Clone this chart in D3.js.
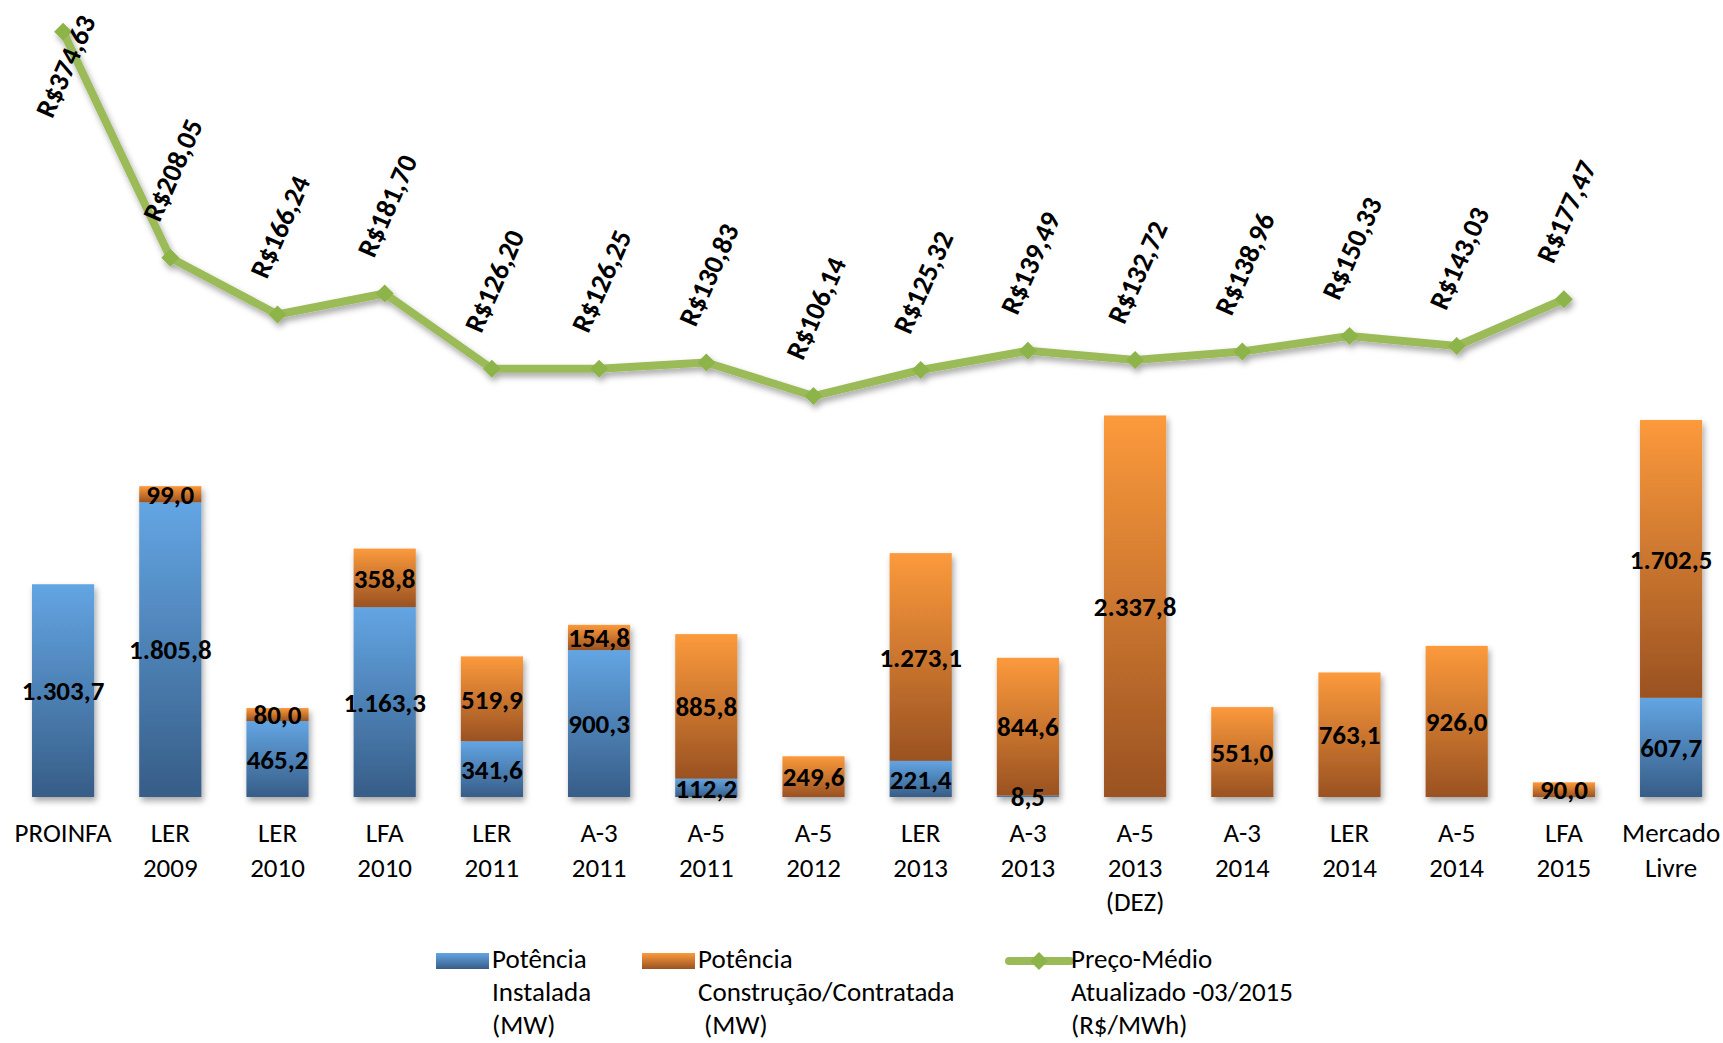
<!DOCTYPE html>
<html lang="pt">
<head>
	<meta charset="utf-8">
<style>

  body {
    margin: 0;
    background: #fff;
  }

  text {
    font-family: Carlito, Calibri, Lato, sans-serif;
    fill: #000;
  }

</style>
	<title>Leilões</title>
	<script type="text/javascript" src="https://cdn.jsdelivr.net/npm/d3@7/dist/d3.min.js"></script>
</head>
<body>
	<div id="chart"></div>
	<script type="text/javascript">

		// data
		var categories = ["PROINFA", "LER 2009", "LER 2010", "LFA 2010", "LER 2011", "A-3 2011", "A-5 2011", "A-5 2012",
			"LER 2013", "A-3 2013", "A-5 2013 (DEZ)", "A-3 2014", "LER 2014", "A-5 2014", "LFA 2015", "Mercado Livre"];
		var categoryLines = [["PROINFA"], ["LER", "2009"], ["LER", "2010"], ["LFA", "2010"], ["LER", "2011"], ["A-3", "2011"],
			["A-5", "2011"], ["A-5", "2012"], ["LER", "2013"], ["A-3", "2013"], ["A-5", "2013", "(DEZ)"], ["A-3", "2014"],
			["LER", "2014"], ["A-5", "2014"], ["LFA", "2015"], ["Mercado", "Livre"]];
		var instalada = [1303.7, 1805.8, 465.2, 1163.3, 341.6, 900.3, 112.2, 0, 221.4, 8.5, 0, 0, 0, 0, 0, 607.7];
		var construcao = [0, 99.0, 80.0, 358.8, 519.9, 154.8, 885.8, 249.6, 1273.1, 844.6, 2337.8, 551.0, 763.1, 926.0, 90.0, 1702.5];
		var preco = [374.63, 208.05, 166.24, 181.70, 126.20, 126.25, 130.83, 106.14, 125.32, 139.49, 132.72, 138.96, 150.33, 143.03, 177.47];
		var legendItems = [
			["Potência", "Instalada", "(MW)"],
			["Potência", "Construção/Contratada", " (MW)"],
			["Preço-Médio", "Atualizado -03/2015", "(R$/MWh)"]
		];

		var width = 1723,
			height = 1043;

		var ptBR = d3.formatLocale({ decimal: ",", thousands: ".", grouping: [3], currency: ["R$", ""] });
		var fmtMW = ptBR.format(",.1f"),
			fmtPreco = ptBR.format("$,.2f");

		var svg = d3.select("#chart")
					.append("svg")
					.attr("width", width)
					.attr("height", height);

		var defs = svg.append("defs");

		function gradient(id, top, bottom) {
			var g = defs.append("linearGradient")
				.attr("id", id)
				.attr("x1", 0).attr("y1", 0)
				.attr("x2", 0).attr("y2", 1);
			g.append("stop").attr("offset", "0%").attr("stop-color", top);
			g.append("stop").attr("offset", "100%").attr("stop-color", bottom);
		}
		gradient("gBlue", "#63a5e3", "#375d87");
		gradient("gOrange", "#fc9a3c", "#9a5222");

		var shadow = defs.append("filter")
			.attr("id", "shadow")
			.attr("x", "-20%").attr("y", "-20%")
			.attr("width", "140%").attr("height", "140%");
		shadow.append("feDropShadow")
			.attr("dx", 2).attr("dy", 4)
			.attr("stdDeviation", 3)
			.attr("flood-color", "#000")
			.attr("flood-opacity", 0.35);

		var x = d3.scaleBand()
			.domain(categories)
			.range([9.5, 1724.7])
			.paddingInner(0.42)
			.paddingOuter(0.21);

		var y = d3.scaleLinear()
			.domain([0, 2500])
			.range([797, 389]);

		var y2 = d3.scaleLinear()
			.domain([0, 400])
			.range([540, -2.6]);

		var rows = categories.map(function(c, i) {
			return { cat: c, lines: categoryLines[i], inst: instalada[i], cons: construcao[i] };
		});

		// axis
		svg.append("line")
			.attr("x1", 10).attr("x2", width)
			.attr("y1", y(0)).attr("y2", y(0))
			.attr("stroke", "#9a9a9a")
			.attr("stroke-width", 2)
			.attr("filter", "url(#shadow)");

		// stacked bars
		var bars = svg.append("g").attr("filter", "url(#shadow)");

		bars.selectAll(".inst")
			.data(rows.filter(function(d){ return d.inst > 0; }))
			.enter().append("rect")
			.attr("class", "inst")
			.attr("x", function(d){ return x(d.cat); })
			.attr("width", x.bandwidth())
			.attr("y", function(d){ return y(d.inst); })
			.attr("height", function(d){ return y(0) - y(d.inst); })
			.attr("fill", "url(#gBlue)");

		bars.selectAll(".cons")
			.data(rows.filter(function(d){ return d.cons > 0; }))
			.enter().append("rect")
			.attr("class", "cons")
			.attr("x", function(d){ return x(d.cat); })
			.attr("width", x.bandwidth())
			.attr("y", function(d){ return y(d.inst + d.cons); })
			.attr("height", function(d){ return y(d.inst) - y(d.inst + d.cons); })
			.attr("fill", "url(#gOrange)");

		// bar labels
		var labels = svg.append("g")
			.attr("text-anchor", "middle")
			.style("font-size", "27px")
			.style("font-weight", "bold");

		labels.selectAll(".linst")
			.data(rows.filter(function(d){ return d.inst > 0; }))
			.enter().append("text")
			.attr("x", function(d){ return x(d.cat) + x.bandwidth() / 2; })
			.attr("y", function(d){ return (y(0) + y(d.inst)) / 2; })
			.attr("dy", "0.36em")
			.text(function(d){ return fmtMW(d.inst); });

		labels.selectAll(".lcons")
			.data(rows.filter(function(d){ return d.cons > 0; }))
			.enter().append("text")
			.attr("x", function(d){ return x(d.cat) + x.bandwidth() / 2; })
			.attr("y", function(d){ return (y(d.inst) + y(d.inst + d.cons)) / 2; })
			.attr("dy", "0.36em")
			.text(function(d){ return fmtMW(d.cons); });

		// category labels
		var ticks = svg.append("g")
			.attr("text-anchor", "middle")
			.style("font-size", "27px");

		ticks.selectAll("text")
			.data(rows)
			.enter().append("text")
			.attr("x", function(d){ return x(d.cat) + x.bandwidth() / 2; })
			.attr("y", 842)
			.each(function(d) {
				d3.select(this).selectAll("tspan")
					.data(d.lines)
					.enter().append("tspan")
					.attr("x", x(d.cat) + x.bandwidth() / 2)
					.attr("dy", function(l, i){ return i === 0 ? 0 : 34.5; })
					.text(function(l){ return l; });
			});

		// price line
		var pts = preco.map(function(p, i) {
			return { cat: categories[i], p: p, cx: x(categories[i]) + x.bandwidth() / 2, cy: y2(p) };
		});

		var line = d3.line()
			.x(function(d){ return d.cx; })
			.y(function(d){ return d.cy; });

		var lineG = svg.append("g").attr("filter", "url(#shadow)");

		lineG.append("path")
			.datum(pts)
			.attr("d", line)
			.attr("fill", "none")
			.attr("stroke", "#9bbb59")
			.attr("stroke-width", 8)
			.attr("stroke-linejoin", "round");

		lineG.selectAll("path.marker")
			.data(pts)
			.enter().append("path")
			.attr("class", "marker")
			.attr("transform", function(d){ return "translate(" + d.cx + "," + d.cy + ")"; })
			.attr("d", "M0,-9L9,0L0,9L-9,0Z")
			.attr("fill", "#8db44a");

		svg.append("g")
			.style("font-size", "28px")
			.style("font-weight", "bold")
			.attr("text-anchor", "middle")
			.selectAll("text")
			.data(pts)
			.enter().append("text")
			.attr("transform", function(d) {
				var cy = Math.max(d.cy - 88, 66);
				return "translate(" + (d.cx + 2) + "," + cy + ") rotate(-66)";
			})
			.attr("dy", "0.36em")
			.text(function(d){ return fmtPreco(d.p); });

		// legend
		var legendX = [436, 642, 1009];
		var legend = svg.append("g").style("font-size", "27px");

		legend.append("rect")
			.attr("x", legendX[0]).attr("y", 953)
			.attr("width", 53).attr("height", 16)
			.attr("fill", "url(#gBlue)");
		legend.append("rect")
			.attr("x", legendX[1]).attr("y", 953)
			.attr("width", 53).attr("height", 16)
			.attr("fill", "url(#gOrange)");
		legend.append("line")
			.attr("x1", legendX[2]).attr("x2", legendX[2] + 61)
			.attr("y1", 961).attr("y2", 961)
			.attr("stroke", "#9bbb59")
			.attr("stroke-width", 8)
			.attr("stroke-linecap", "round");
		legend.append("path")
			.attr("transform", "translate(" + (legendX[2] + 30) + ",961)")
			.attr("d", "M0,-9L9,0L0,9L-9,0Z")
			.attr("fill", "#8db44a");

		legend.selectAll("text")
			.data(legendItems)
			.enter().append("text")
			.attr("y", 968)
			.each(function(d, k) {
				var tx = legendX[k] + (k === 2 ? 62 : 56);
				d3.select(this).selectAll("tspan")
					.data(d)
					.enter().append("tspan")
					.attr("x", tx)
					.attr("dy", function(l, i){ return i === 0 ? 0 : 33; })
					.style("white-space", "pre")
					.text(function(l){ return l; });
			});

    </script>
</body>
</html>
